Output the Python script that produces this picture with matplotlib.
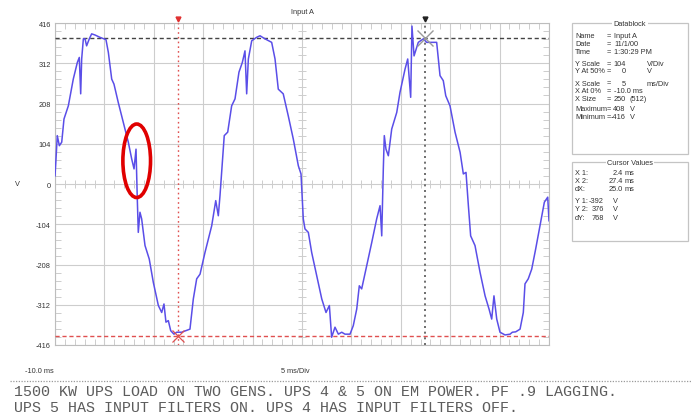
import matplotlib.pyplot as plt
import numpy as np
from matplotlib.patches import Ellipse, Rectangle

# waveform (ms, V)
t_ms = [-10, -9.9, -9.77, -9.56, -9.32, -9.09, -8.65, -8.15, -7.74, -7.54,
        -7.4, -7.3, -7.13, -6.96, -6.8, -6.53, -6.29, -5.95, -5.45, -4.84,
        -4.6, -4.26, -4.03, -3.6, -3.09, -2.58, -2.24, -2.0, -1.8, -1.73,
        -1.67, -1.57, -1.4, -1.23, -0.89, -0.46, -0.05, 0.46, 0.8, 1.03,
        1.23, 1.47, 1.71, 2.04, 2.32, 2.82, 3.66, 4.0, 4.34, 4.68,
        5.18, 5.86, 6.27, 6.53, 6.7, 6.87, 7.13, 7.48, 7.88, 8.22,
        8.62, 8.96, 9.23, 9.4, 9.57, 9.91, 10.41, 10.75, 11.26, 11.93,
        12.27, 12.6, 13.1, 13.61, 14.12, 14.63, 14.9, 15.13, 15.3, 15.64,
        15.98, 16.49, 17.0, 17.43, 17.77, 18.0, 18.34, 18.68, 19.02, 19.35,
        19.86, 20.19, 20.54, 20.8, 21.04, 21.55, 22.06, 22.56, 22.9, 23.07,
        23.23, 23.33, 23.5, 23.74, 24.08, 24.59, 24.92, 25.43, 25.7, 26.0,
        26.13, 26.34, 26.77, 27.28, 27.62, 28.63, 28.97, 29.3, 29.55, 29.98,
        30.49, 31.0, 31.33, 31.6, 31.84, 32.07, 32.51, 33.02, 33.53, 33.93,
        34.2, 34.43, 34.71, 35.04, 35.55, 36.06, 36.29, 36.63, 37.07, 37.4,
        37.57, 37.9, 38.25, 38.65, 39.09, 39.53, 39.87, 40.0]
volts = [21, 64, 125, 99, 108, 168, 202, 271, 314, 327,
         233, 323, 375, 375, 357, 375, 388, 385, 379, 373,
         340, 271, 258, 211, 159, 108, 65, 39, 90, 21,
         -39, -125, -73, -90, -159, -194, -254, -314, -332, -310,
         -357, -353, -379, -388, -383, -383, -375, -297, -245, -233,
         -177, -108, -43, -82, -30, 30, 125, 134, 202, 220,
         289, 314, 344, 233, 323, 370, 379, 383, 375, 366,
         323, 245, 233, 176, 116, 47, 26, -90, -116, -125,
         -177, -237, -297, -332, -314, -396, -370, -388, -383, -388,
         -388, -366, -323, -263, -271, -211, -151, -90, -56, -134,
         39, 125, 90, 73, 142, 185, 237, 297, 323, 224,
         408, 331, 366, 375, 366, 366, 280, 267, 228, 202,
         134, 82, 26, 30, -56, -134, -159, -228, -289, -323,
         -349, -289, -349, -383, -390, -388, -383, -382, -375, -332,
         -258, -245, -220, -168, -108, -47, -34, -95]

# cursors
cursor_x = [2.4, 27.4]
cursor_y = [-392, 376]

y_ticks = [416, 312, 208, 104, 0, -104, -208, -312, -416]

db_labels = ["Name", "Date", "Time", "Y Scale", "Y At 50%", "X Scale",
             "X At 0%", "X Size", "Maximum", "Minimum"]
db_values = ["Input A", "11/1/00", "1:30:29 PM", "104", "0", "5",
             "-10.0 ms", "250", "408", "-416"]
db_units = ["", "", "", "V/Div", "V", "ms/Div", "", "(512)", "V", "V"]

note_lines = ["1500 KW UPS LOAD ON TWO GENS. UPS 4 & 5 ON EM POWER. PF .9 LAGGING.",
              "UPS 5 HAS INPUT FILTERS ON. UPS 4 HAS INPUT FILTERS OFF."]

ui = dict(family="Liberation Sans", fontsize=5.3, color="#333333")
grid_c = "#cdcdcd"

fig = plt.figure(figsize=(6.91, 4.14), dpi=100)
W, H = 691, 414
ax = fig.add_axes([55 / W, 1 - 346 / H, 494 / W, 322 / H])

ax.plot(t_ms, volts, color="#5a4ee8", lw=1.1, zorder=5)

ax.set_xlim(-10, 40)
ax.set_ylim(-416, 416)
ax.set_xticks(np.arange(-10, 41, 5))
ax.set_xticks(np.arange(-10, 41, 1), minor=True)
ax.set_yticks(y_ticks)
ax.set_yticks(np.arange(-416, 417, 20.8), minor=True)
ax.set_yticklabels([str(v) for v in y_ticks], **ui)
ax.set_xticklabels([])
ax.grid(True, which="major", color=grid_c, lw=0.8)
ax.tick_params(which="major", length=0, pad=3)
ax.tick_params(which="minor", direction="in", length=4, color=grid_c,
               top=True, right=True, width=0.7)
for s in ax.spines.values():
    s.set_color("#bdbdbd")
    s.set_linewidth(0.8)

# crossing ticks on centre lines
mx = np.arange(-10, 41, 1)
ax.plot(mx, np.zeros_like(mx), ls="none", marker="|", ms=6, color=grid_c, mew=0.7)
my = np.arange(-416, 417, 20.8)
ax.plot(np.full_like(my, 15), my, ls="none", marker="_", ms=6, color=grid_c, mew=0.7)

# cursor lines
ax.axvline(cursor_x[0], color="#e05050", ls=(0, (1.2, 2.2)), lw=1.0, zorder=4)
ax.axhline(cursor_y[0], color="#e05050", ls=(0, (3, 2)), lw=1.0, zorder=4)
ax.axvline(cursor_x[1], color="#555555", ls=(0, (1.2, 2.2)), lw=1.2, zorder=4)
ax.axhline(cursor_y[1], color="#444444", ls=(0, (3, 2)), lw=1.0, zorder=4)
ax.plot(cursor_x[0], cursor_y[0], marker="x", ms=9, mew=0.9, color="#e05050", zorder=6, clip_on=False)
ax.plot(cursor_x[1], cursor_y[1], marker="x", ms=11, mew=1.0, color="#999999", zorder=6)
ax.plot(cursor_x[0], 426, marker="v", ms=3.5, color="#e03030", clip_on=False)
ax.plot(cursor_x[1], 426, marker="v", ms=3.5, color="#222222", clip_on=False)

# red highlight ring
ax.add_patch(Ellipse((-1.73, 60), 2.8, 190, fill=False, ec="#e00000", lw=2.6, zorder=7))

# overlay in pixel coordinates for the surrounding panel
ov = fig.add_axes([0, 0, 1, 1])
ov.set_xlim(0, W)
ov.set_ylim(H, 0)
ov.axis("off")

ov.text(302, 12, "Input A", ha="center", va="center", **ui)
ov.text(17, 185, "V", ha="center", va="center", **ui)
ov.text(54, 372, "-10.0 ms", ha="right", va="center", **ui)
ov.text(295, 372, "5 ms/Div", ha="center", va="center", **ui)
ov.plot([10, W], [382, 382], color="#9a9a9a", ls=(0, (1, 1.2)), lw=0.9)
for i, line in enumerate(note_lines):
    ov.text(14, 392 + 16 * i, line, family="Liberation Mono", fontsize=10.85,
            color="#5c5c5c", ha="left", va="center")

# Datablock
box_c = "#c4c4c4"
ov.add_patch(Rectangle((572, 24), 116, 131, fill=False, ec=box_c, lw=0.9))
ov.text(630, 24, "Datablock", ha="center", va="center",
        bbox=dict(fc="white", ec="none", pad=1), **ui)
row_y = [36.7, 44.3, 52.3, 64.3, 71.7, 84, 91.7, 99.3, 110, 117.3]
unit_x = [0, 0, 0, 647, 647, 647, 0, 630, 630, 630]
for lab, val, unit, y, ux in zip(db_labels, db_values, db_units, row_y, unit_x):
    ov.text(575, y, lab, ha="left", va="center", **ui)
    ov.text(606.5, y, "=", ha="left", va="center", **ui)
    if unit:
        ov.text(625.5, y, val, ha="right", va="center", **ui)
        ov.text(ux, y, unit, ha="left", va="center", **ui)
    else:
        ov.text(614, y, val, ha="left", va="center", **ui)

# Cursor values
ov.add_patch(Rectangle((572, 163.3), 116, 78.4, fill=False, ec=box_c, lw=0.9))
ov.text(630, 163.3, "Cursor Values", ha="center", va="center",
        bbox=dict(fc="white", ec="none", pad=1), **ui)
x_vals = [cursor_x[0], cursor_x[1], cursor_x[1] - cursor_x[0]]
y_vals = [cursor_y[0], cursor_y[1], cursor_y[1] - cursor_y[0]]
for lab, val, y in zip(["X 1:", "X 2:", "dX:"], x_vals, [173.3, 181.7, 190]):
    ov.text(575, y, lab, ha="left", va="center", **ui)
    ov.text(623, y, f"{val:.1f}", ha="right", va="center", **ui)
    ov.text(625, y, "ms", ha="left", va="center", **ui)
for lab, val, y in zip(["Y 1:", "Y 2:", "dY:"], y_vals, [201.7, 210, 218.3]):
    ov.text(575, y, lab, ha="left", va="center", **ui)
    ov.text(604, y, f"{val:d}", ha="right", va="center", **ui)
    ov.text(613, y, "V", ha="left", va="center", **ui)

fig.savefig("out.png", dpi=100, facecolor="white")
